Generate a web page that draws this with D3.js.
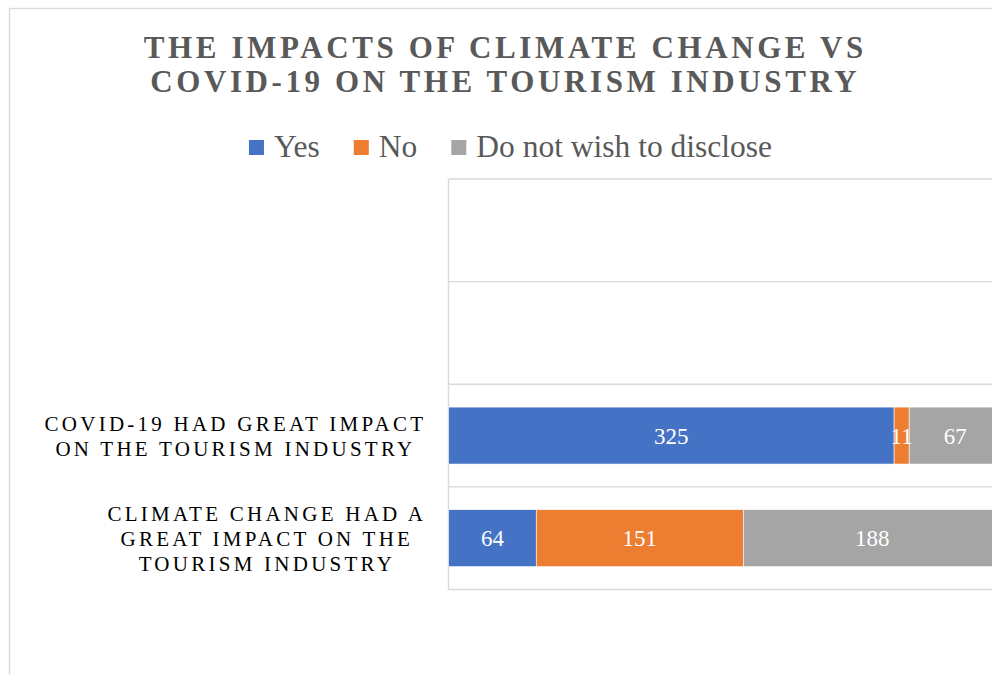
<!DOCTYPE html>
<html>
<head>
<meta charset="utf-8">
<script src="https://cdn.jsdelivr.net/npm/d3@7"></script>
<style>
  html, body { margin: 0; padding: 0; background: #fff; }
  svg { display: block; }
  text { font-family: "Times New Roman", "Liberation Serif", serif; }
</style>
</head>
<body>
<svg id="chart" width="992" height="675"></svg>
<script>
// Survey responses per statement (two empty rows sit above them on the category axis)
const categoryLines = [
  [],
  [],
  ["COVID-19 HAD GREAT IMPACT", "ON THE TOURISM INDUSTRY"],
  ["CLIMATE CHANGE HAD A", "GREAT IMPACT ON THE", "TOURISM INDUSTRY"]
];
const seriesNames = ["Yes", "No", "Do not wish to disclose"];
const yesValues = [null, null, 325, 64];
const noValues = [null, null, 11, 151];
const undisclosedValues = [null, null, 67, 188];
const seriesColors = ["#4472C4", "#ED7D31", "#A5A5A5"];
const titleLines = ["THE IMPACTS OF CLIMATE CHANGE VS", "COVID-19 ON THE TOURISM INDUSTRY"];
const xMax = 450;

const svg = d3.select("#chart");
const W = 992, H = 675;

// outer chart frame
svg.append("rect")
  .attr("x", 9.5).attr("y", 8.5)
  .attr("width", 1100).attr("height", 800)
  .attr("fill", "#fff").attr("stroke", "#d9d9d9").attr("stroke-width", 1.3);

// plot area
const plot = { left: 448.5, top: 179, bottom: 589.5 };
const x = d3.scaleLinear().domain([0, xMax]).range([plot.left, plot.left + 617]);
const y = d3.scaleBand().domain(d3.range(categoryLines.length))
  .range([plot.top, plot.bottom]).paddingInner(0).paddingOuter(0);

// stacked series
const rows = categoryLines.map((lines, i) => ({
  i, lines,
  "Yes": yesValues[i], "No": noValues[i], "Do not wish to disclose": undisclosedValues[i]
}));
const stack = d3.stack().keys(seriesNames).value((d, k) => d[k] == null ? 0 : d[k]);
const stacked = stack(rows);

// category separators and axis line
const sepY = y.domain().map(i => y(i)).concat([plot.bottom]);
svg.append("g").selectAll("line").data(sepY).join("line")
  .attr("x1", plot.left).attr("x2", W + 10)
  .attr("y1", d => d).attr("y2", d => d)
  .attr("stroke", "#d9d9d9").attr("stroke-width", 1.4);
svg.append("line")
  .attr("x1", plot.left).attr("x2", plot.left)
  .attr("y1", plot.top).attr("y2", plot.bottom)
  .attr("stroke", "#d9d9d9").attr("stroke-width", 1.4);

// bars
const barFrac = 0.555;
const barH = y.bandwidth() * barFrac;
const barOff = (y.bandwidth() - barH) / 2;
const layers = svg.append("g").selectAll("g").data(stacked).join("g")
  .attr("fill", (d, i) => seriesColors[i]);
layers.selectAll("rect")
  .data(d => d.filter(s => s.data[d.key] != null))
  .join("rect")
  .attr("x", s => x(s[0]))
  .attr("width", s => x(s[1]) - x(s[0]))
  .attr("y", s => y(s.data.i) + barOff)
  .attr("height", barH)
  .attr("stroke", "#fff").attr("stroke-width", 0.6);

// data labels
const labelG = svg.append("g");
stacked.forEach(layer => {
  layer.filter(s => s.data[layer.key] != null).forEach(s => {
    labelG.append("text")
      .attr("x", (x(s[0]) + x(s[1])) / 2)
      .attr("y", y(s.data.i) + y.bandwidth() / 2 + 8)
      .attr("text-anchor", "middle")
      .attr("fill", "#fff")
      .attr("font-size", 23)
      .text(s.data[layer.key]);
  });
});

// category labels: block right-aligned to the axis, lines centred within the block
const catSpacing = 3.25, catLineH = 25, labelRight = 423;
rows.filter(r => r.lines.length).forEach(r => {
  const g = svg.append("g");
  const texts = r.lines.map(line => g.append("text")
    .attr("font-size", 21)
    .attr("letter-spacing", catSpacing)
    .attr("fill", "#000")
    .attr("text-anchor", "middle")
    .text(line));
  const widths = texts.map(t => t.node().getComputedTextLength() - catSpacing);
  const blockW = d3.max(widths);
  const cx = labelRight - blockW / 2;
  const cy = y(r.i) + y.bandwidth() / 2;
  const n = r.lines.length;
  texts.forEach((t, k) => {
    t.attr("x", cx + catSpacing / 2)
     .attr("y", cy + (k - (n - 1) / 2) * catLineH + 7.5);
  });
});

// title
const titleSpacing = 3.6;
svg.append("g").selectAll("text").data(titleLines).join("text")
  .attr("x", 503.5 + titleSpacing / 2)
  .attr("y", (d, i) => 58 + i * 34)
  .attr("text-anchor", "middle")
  .attr("font-size", 31)
  .attr("font-weight", "bold")
  .attr("letter-spacing", titleSpacing)
  .attr("fill", "#595959")
  .text(d => d);

// legend
const legend = svg.append("g");
const items = seriesNames.map((name, i) => {
  const g = legend.append("g");
  g.append("rect").attr("width", 15).attr("height", 15).attr("y", 140)
    .attr("fill", seriesColors[i]);
  const t = g.append("text").attr("x", 25).attr("y", 157)
    .attr("font-size", 31.5).attr("fill", "#595959").text(name);
  return { g, w: 25 + t.node().getComputedTextLength() };
});
const gap = 34;
const totalW = d3.sum(items, d => d.w) + gap * (items.length - 1);
let lx = 510.5 - totalW / 2;
items.forEach(it => { it.g.attr("transform", `translate(${lx},0)`); lx += it.w + gap; });
</script>
</body>
</html>
